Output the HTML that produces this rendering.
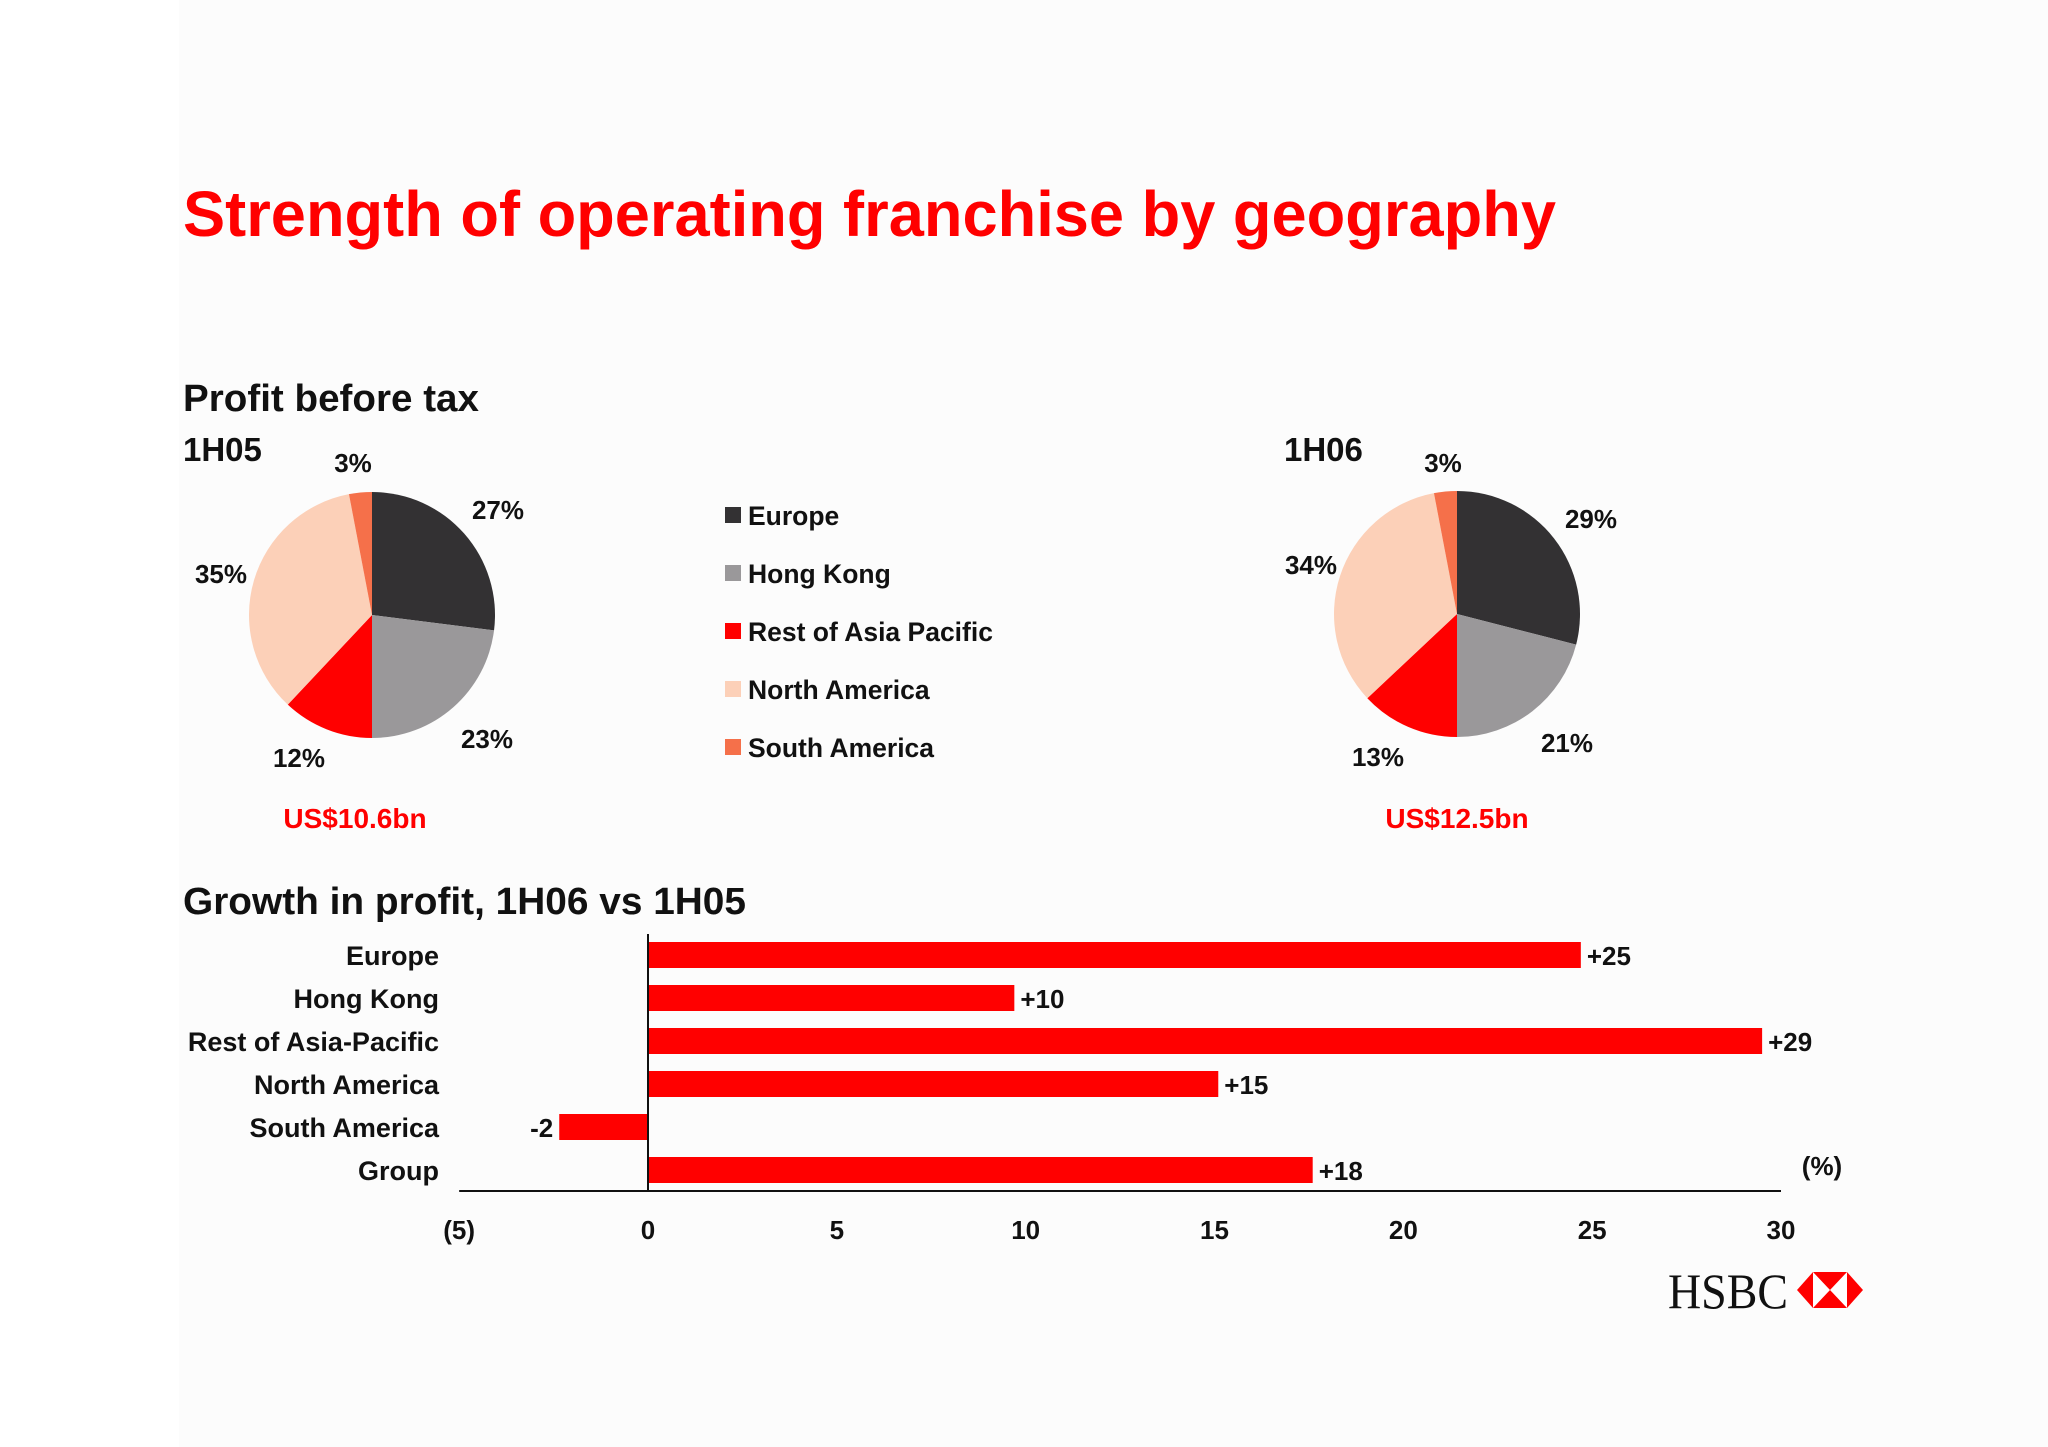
<!DOCTYPE html>
<html><head><meta charset="utf-8">
<style>
html,body{margin:0;padding:0;background:#fff;}
svg{display:block;font-family:"Liberation Sans",Arial,sans-serif;}
</style></head>
<body>
<svg id="s" width="2048" height="1447" viewBox="0 0 2048 1447" xmlns="http://www.w3.org/2000/svg">
<rect x="0" y="0" width="2048" height="1447" fill="#ffffff"/>
<rect x="179" y="0" width="1869" height="1447" fill="#fcfcfc"/>
<text x="183" y="236" font-size="64" font-weight="bold" fill="#ff0000" textLength="1373" lengthAdjust="spacingAndGlyphs">Strength of operating franchise by geography</text>
<text x="183" y="411" font-size="38" font-weight="bold" fill="#111" textLength="296" lengthAdjust="spacingAndGlyphs">Profit before tax</text>
<text x="183" y="461" font-size="33" font-weight="bold" fill="#111">1H05</text>
<text x="1284" y="461" font-size="33" font-weight="bold" fill="#111">1H06</text>
<text x="355" y="828" font-size="28" font-weight="bold" fill="#ff0000" text-anchor="middle">US$10.6bn</text>
<text x="1457" y="828" font-size="28" font-weight="bold" fill="#ff0000" text-anchor="middle">US$12.5bn</text>
<text x="183" y="914" font-size="38" font-weight="bold" fill="#111" textLength="563" lengthAdjust="spacingAndGlyphs">Growth in profit, 1H06 vs 1H05</text>
<g id="pies"></g>
<g id="legend"></g>
<g id="bars"></g>
<g>
<text x="1668" y="1308" font-family="'Liberation Serif',serif" font-size="50" fill="#111" textLength="120" lengthAdjust="spacingAndGlyphs">HSBC</text>
<g transform="translate(1830,1290)">
<polygon points="-33,0 -17,-18 17,-18 33,0 17,18 -17,18" fill="#ff0000"/>
<rect x="-17" y="-18" width="34" height="36" fill="#fff"/>
<polygon points="-17,-18 17,-18 0,0" fill="#ff0000"/>
<polygon points="-17,18 17,18 0,0" fill="#ff0000"/>
</g>
</g>
</svg>
<script>
const NS='http://www.w3.org/2000/svg';
const regions=['Europe','Hong Kong','Rest of Asia Pacific','North America','South America'];
const colors=['#333133','#9a989a','#ff0000','#fcd0b8','#f5704a'];
const pie1Values=[27,23,12,35,3];
const pie2Values=[29,21,13,34,3];
const barCategories=['Europe','Hong Kong','Rest of Asia-Pacific','North America','South America','Group'];
const barValues=[24.7,9.7,29.5,15.1,-2.35,17.6];
const barLabels=['+25','+10','+29','+15','-2','+18'];
const xTicks=[-5,0,5,10,15,20,25,30];
const xTickLabels=['(5)','0','5','10','15','20','25','30'];

function mk(tag,attrs,parent){const e=document.createElementNS(NS,tag);for(const k in attrs)e.setAttribute(k,attrs[k]);parent.appendChild(e);return e;}

const pies=document.getElementById('pies');
const pieLabelPos1=[[498,519],[487,748],[299,767],[221,583],[353,472]];
const pieLabelPos2=[[1591,528],[1567,752],[1378,766],[1311,574],[1443,472]];
function drawPie(cx,cy,r,vals,labelPos,id){
  const g=mk('g',{},pies);
  
  
  const tot=vals.reduce((a,b)=>a+b,0);
  let a0=0;
  vals.forEach((v,i)=>{
    const a1=a0+v/tot*2*Math.PI;
    const x0=cx+r*Math.sin(a0),y0=cy-r*Math.cos(a0),x1=cx+r*Math.sin(a1),y1=cy-r*Math.cos(a1);
    const large=(a1-a0)>Math.PI?1:0;
    const p=mk('path',{d:`M${cx},${cy} L${x0},${y0} A${r},${r} 0 ${large} 1 ${x1},${y1} Z`,fill:colors[i]},g);
    
    
    const t=mk('text',{x:labelPos[i][0],y:labelPos[i][1],'font-size':26,'font-weight':'bold','text-anchor':'middle',fill:'#111'},g);
    t.textContent=v+'%';
    
    
    a0=a1;
  });
}
drawPie(372,615,123,pie1Values,pieLabelPos1,'1h05');
drawPie(1457,614,123,pie2Values,pieLabelPos2,'1h06');

const lg=document.getElementById('legend');
regions.forEach((n,i)=>{
  const y=515+i*58;
  const r=mk('rect',{x:725,y:y-8,width:16,height:16,fill:colors[i]},lg);
  
  
  const t=mk('text',{x:748,y:y+10,'font-size':26.5,'font-weight':'bold',fill:'#111'},lg);
  t.textContent=n;
  
  
});

const bg=document.getElementById('bars');
const x0px=648, unit=(1781-648)/30;
const xs=v=>x0px+v*unit;
const yRow=i=>955+i*43;
const barH=26;
barCategories.forEach((c,i)=>{
  const v=barValues[i];const y=yRow(i);
  const lab=mk('text',{x:439,y:y+10,'font-size':27,'font-weight':'bold','text-anchor':'end',fill:'#111'},bg);
  lab.textContent=c;
  
  
  const bx=Math.min(xs(0),xs(v)),bw=Math.abs(xs(v)-xs(0));
  const b=mk('rect',{x:bx,y:y-barH/2,width:bw,height:barH,fill:'#ff0000'},bg);
  
  
  const vt=mk('text',{x:v>=0?xs(v)+6:xs(v)-6,y:y+10,'font-size':26,'font-weight':'bold','text-anchor':v>=0?'start':'end',fill:'#111'},bg);
  vt.textContent=barLabels[i];
  
  
});
const ax=mk('line',{x1:xs(-5),x2:xs(30),y1:1191,y2:1191,stroke:'#111','stroke-width':2},bg);


const zl=mk('line',{x1:xs(0),x2:xs(0),y1:934,y2:1191,stroke:'#111','stroke-width':2},bg);


xTicks.forEach((t,i)=>{
  const tt=mk('text',{x:xs(t),y:1239,'font-size':26,'font-weight':'bold','text-anchor':'middle',fill:'#111'},bg);
  tt.textContent=xTickLabels[i];
  
  
});
const unitT=mk('text',{x:1822,y:1175,'font-size':26,'font-weight':'bold','text-anchor':'middle',fill:'#111'},bg);
unitT.textContent='(%)';


</script>
</body></html>
